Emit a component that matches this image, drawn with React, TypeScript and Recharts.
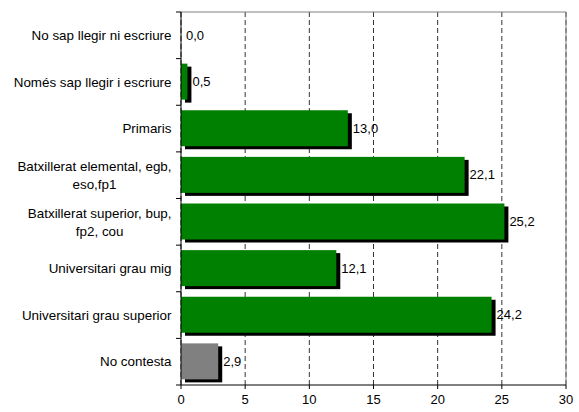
import React from "react";
import {
  BarChart,
  Bar,
  XAxis,
  YAxis,
  CartesianGrid,
  ReferenceLine,
  LabelList,
  Cell,
} from "recharts";

const CATEGORIES = [
  "No sap llegir ni escriure",
  "Només sap llegir i escriure",
  "Primaris",
  "Batxillerat elemental, egb,\neso,fp1",
  "Batxillerat superior, bup,\nfp2, cou",
  "Universitari grau mig",
  "Universitari grau superior",
  "No contesta",
];

const VALUES = [0.0, 0.5, 13.0, 22.1, 25.2, 12.1, 24.2, 2.9];

const X_TICKS = [0, 5, 10, 15, 20, 25, 30];

const GREEN = "#008000";
const GRAY = "#808080";
const FONT = "'Liberation Sans', Arial, sans-serif";
const CAT_FONT_SIZE = 13.4;

// layout
const W = 579;
const H = 412;
const PLOT_LEFT = 181;
const PLOT_TOP = 12;
const PLOT_BOTTOM = 385;
const BAND = (PLOT_BOTTOM - PLOT_TOP) / CATEGORIES.length;

const data = CATEGORIES.map((name, i) => ({ name, value: VALUES[i] }));

let ctx: CanvasRenderingContext2D | null = null;
function textWidth(s: string) {
  if (!ctx) {
    ctx = document.createElement("canvas").getContext("2d");
  }
  if (!ctx) return s.length * 6.5;
  ctx.font = `${CAT_FONT_SIZE}px ${FONT}`;
  return ctx.measureText(s).width;
}

const ShadowBar = (props: any) => {
  const { x, y, width, height, fill } = props;
  if (!width || width <= 0) return null;
  return (
    <g>
      <rect x={x + 4} y={y + 3} width={width} height={height} fill="#000" />
      <rect x={x} y={y} width={width} height={height} fill={fill} />
    </g>
  );
};

const CategoryTick = (props: any) => {
  const { y, payload, index } = props;
  const lines = String(payload.value).split("\n");
  const right = 171.5;
  const maxW = Math.max(...lines.map(textWidth));
  const cx = right - maxW / 2;
  const lineH = 18;
  const startY = y - ((lines.length - 1) * lineH) / 2;
  return (
    <g>
      <line
        x1={PLOT_LEFT - 5}
        x2={PLOT_LEFT}
        y1={y - BAND / 2}
        y2={y - BAND / 2}
        stroke="#000"
      />
      {index === CATEGORIES.length - 1 && (
        <line
          x1={PLOT_LEFT - 5}
          x2={PLOT_LEFT}
          y1={y + BAND / 2}
          y2={y + BAND / 2}
          stroke="#000"
        />
      )}
      {lines.map((l, i) => (
        <text
          key={i}
          x={cx}
          y={startY + i * lineH}
          dy="0.35em"
          textAnchor="middle"
          fontSize={CAT_FONT_SIZE}
          fontFamily={FONT}
          fill="#000"
        >
          {l}
        </text>
      ))}
    </g>
  );
};

export default function App() {
  return (
    <div style={{ position: "absolute", left: 0, top: 0, background: "#fff" }}>
      <BarChart
        width={W}
        height={H}
        data={data}
        layout="vertical"
        margin={{ top: PLOT_TOP, right: W - 566, bottom: 0, left: 0 }}
      >
        <CartesianGrid
          vertical
          horizontal={false}
          stroke="#333"
          strokeDasharray="5 3"
        />
        <CartesianGrid
          vertical={false}
          horizontal
          horizontalPoints={[PLOT_TOP]}
          stroke={GRAY}
        />
        <ReferenceLine x={30} stroke={GRAY} />
        <XAxis
          type="number"
          domain={[0, 30]}
          ticks={X_TICKS}
          height={H - PLOT_BOTTOM}
          tickSize={4}
          tickMargin={6}
          axisLine={{ stroke: "#000" }}
          tickLine={{ stroke: "#000" }}
          tick={{ fontSize: 13, fill: "#000", fontFamily: FONT }}
          interval={0}
        />
        <YAxis
          type="category"
          dataKey="name"
          width={PLOT_LEFT}
          axisLine={{ stroke: "#000" }}
          tickLine={false}
          tick={<CategoryTick />}
          interval={0}
        />
        <Bar
          dataKey="value"
          barSize={36}
          shape={<ShadowBar />}
          isAnimationActive={false}
        >
          {data.map((d, i) => (
            <Cell
              key={d.name}
              fill={i === data.length - 1 ? GRAY : GREEN}
            />
          ))}
          <LabelList
            dataKey="value"
            position="right"
            offset={5}
            fontSize={13}
            fontFamily={FONT}
            fill="#000"
            formatter={(v: any) => Number(v).toFixed(1).replace(".", ",")}
          />
        </Bar>
      </BarChart>
    </div>
  );
}
